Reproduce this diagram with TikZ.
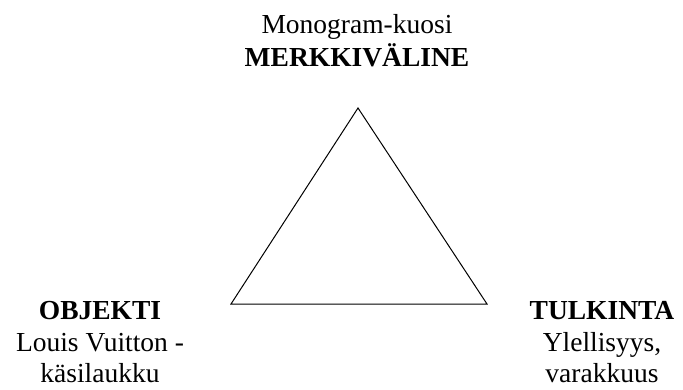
\documentclass[tikz,border=0pt]{standalone}
\usepackage{fontspec}
\setmainfont{Liberation Serif}
\begin{document}
\begin{tikzpicture}[x=1pt,y=-1pt,
  txt/.style={inner sep=0pt,anchor=base,font=\fontsize{27.5}{32}\selectfont},
  btxt/.style={txt,font=\fontsize{27.5}{32}\selectfont\bfseries}]
\useasboundingbox (0,0) rectangle (683,389);
\coordinate (apex) at (358,108);
\coordinate (bl) at (231,304);
\coordinate (br) at (487,304);
\draw[line width=1pt,line join=miter] (apex) -- (bl) -- (br) -- cycle;
\node[txt] (t1) at (357,33) {Monogram-kuosi};
\node[btxt] (t2) at (357,66) {MERKKIVÄLINE};
\node[btxt] (l1) at (100,319) {OBJEKTI};
\node[txt] (l2) at (100,351) {Louis Vuitton -};
\node[txt] (l3) at (100,382) {käsilaukku};
\node[btxt] (r1) at (602,319) {TULKINTA};
\node[txt] (r2) at (602,351) {Ylellisyys,};
\node[txt] (r3) at (602,382) {varakkuus};
\end{tikzpicture}
\end{document}
